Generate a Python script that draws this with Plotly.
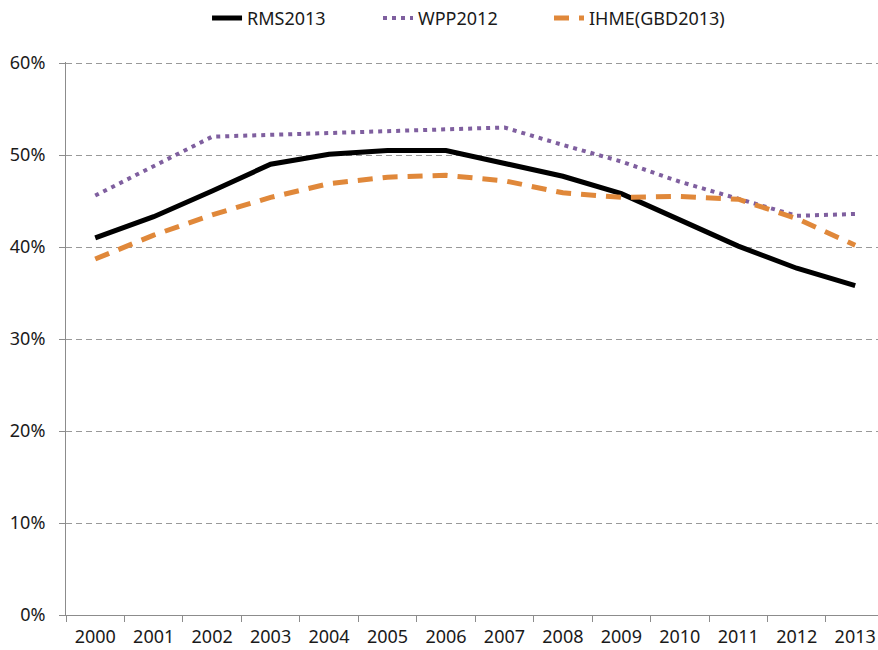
import plotly.graph_objects as go

years = ["2000", "2001", "2002", "2003", "2004", "2005", "2006",
         "2007", "2008", "2009", "2010", "2011", "2012", "2013"]
rms2013 = [0.410, 0.433, 0.461, 0.490, 0.501, 0.505, 0.505,
           0.491, 0.477, 0.458, 0.429, 0.401, 0.377, 0.358]
wpp2012 = [0.456, 0.488, 0.520, 0.522, 0.524, 0.526, 0.528,
           0.530, 0.511, 0.493, 0.471, 0.452, 0.434, 0.436]
ihme = [0.387, 0.413, 0.435, 0.454, 0.469, 0.476, 0.478,
        0.472, 0.459, 0.454, 0.455, 0.452, 0.431, 0.402]
y_ticks = [0, 0.1, 0.2, 0.3, 0.4, 0.5, 0.6]
y_tick_labels = ["0%", "10%", "20%", "30%", "40%", "50%", "60%"]

FONT = "Noto Sans, Liberation Sans, sans-serif"
FS = 18

fig = go.Figure()
fig.add_trace(go.Scatter(x=years, y=rms2013, name="RMS2013", mode="lines",
                         legend="legend",
                         line=dict(color="#000000", width=5)))
fig.add_trace(go.Scatter(x=years, y=wpp2012, name="WPP2012", mode="lines",
                         legend="legend2",
                         line=dict(color="#7F5F9F", width=4, dash="4px,5px")))
fig.add_trace(go.Scatter(x=years, y=ihme, name="IHME(GBD2013)", mode="lines",
                         legend="legend3",
                         line=dict(color="#E0883A", width=5, dash="15px,10px")))

def leg(xpos):
    return dict(orientation="h", xref="container", x=xpos, xanchor="left",
                yref="container", y=0.972, yanchor="middle",
                font=dict(size=FS), bgcolor="rgba(0,0,0,0)")

fig.update_layout(
    template="none",
    width=878, height=650,
    margin=dict(l=66, r=0, t=62, b=35, autoexpand=False),
    paper_bgcolor="white", plot_bgcolor="white",
    font=dict(family=FONT, size=FS, color="#1a1a1a"),
    showlegend=True,
    legend=leg(0.2358),
    legend2=leg(0.4305),
    legend3=leg(0.6253),
    xaxis=dict(
        type="category", range=[-0.5, 13.39], automargin=False,
        showline=True, linecolor="#8c8c8c", linewidth=1,
        ticks="outside", ticklen=6, tickcolor="#8c8c8c",
        tickson="boundaries", showgrid=False, zeroline=False,
        ticklabelstandoff=5,
        tickfont=dict(size=FS),
    ),
    yaxis=dict(
        range=[0, 0.6012], tickvals=y_ticks, ticktext=y_tick_labels,
        automargin=False,
        showline=True, linecolor="#8c8c8c", linewidth=1,
        ticks="outside", ticklen=6, tickcolor="#8c8c8c",
        ticklabelstandoff=10,
        showgrid=True, gridcolor="#999999", gridwidth=1, griddash="6px,4px",
        zeroline=False, tickfont=dict(size=FS),
    ),
)

fig.write_html("out.html",
               config={"displayModeBar": False},
               post_script="document.body.style.margin='0';"
                           "document.body.style.overflow='hidden';")
